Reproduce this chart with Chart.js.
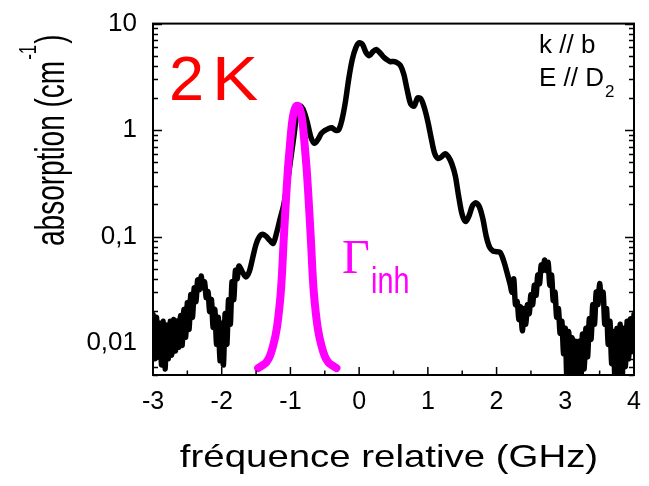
<!DOCTYPE html>
<html>
<head>
<meta charset="utf-8">
<script src="https://cdn.jsdelivr.net/npm/chart.js@4/dist/chart.umd.min.js"></script>
<style>
  html, body { margin: 0; padding: 0; background: #fff; }
  canvas { display: block; }
</style>
</head>
<body>
<canvas id="spectre" width="649" height="486"></canvas>
<script>
// Absorption spectrum at 2 K, log scale, with the inhomogeneous profile drawn on top

// axis ticks
const xTicks = [-3, -2, -1, 0, 1, 2, 3, 4];
const xTickLabels = ['-3', '-2', '-1', '0', '1', '2', '3', '4'];
const yTicks = [0.01, 0.1, 1, 10];
const yTickLabels = ['0,01', '0,1', '1', '10'];

// measured absorption (cm-1) vs relative frequency (GHz)
const freq = [
  -3.000, -2.975, -2.950, -2.925, -2.900, -2.875, -2.850, -2.825, -2.800, -2.775,
  -2.750, -2.725, -2.700, -2.675, -2.650, -2.625, -2.600, -2.575, -2.550, -2.525,
  -2.500, -2.475, -2.450, -2.425, -2.400, -2.375, -2.350, -2.325, -2.300, -2.275,
  -2.250, -2.225, -2.200, -2.175, -2.150, -2.125, -2.100, -2.075, -2.050, -2.025,
  -2.000, -1.975, -1.950, -1.925, -1.900, -1.875, -1.850, -1.825, -1.800, -1.775,
  -1.750, -1.70, -1.65, -1.60, -1.55, -1.50, -1.45, -1.40, -1.35, -1.30,
  -1.25, -1.20, -1.15, -1.10, -1.05, -1.00, -0.95, -0.90, -0.85, -0.80,
  -0.75, -0.70, -0.65, -0.60, -0.55, -0.50, -0.45, -0.40, -0.35, -0.30,
  -0.25, -0.20, -0.15, -0.10, -0.05, 0.00, 0.05, 0.10, 0.15, 0.20,
  0.25, 0.30, 0.35, 0.40, 0.45, 0.50, 0.55, 0.60, 0.65, 0.70,
  0.75, 0.80, 0.85, 0.90, 0.95, 1.00, 1.05, 1.10, 1.15, 1.20,
  1.25, 1.30, 1.35, 1.40, 1.45, 1.50, 1.55, 1.60, 1.65, 1.70,
  1.75, 1.80, 1.85, 1.90, 1.95, 2.00, 2.05, 2.10, 2.15, 2.20,
  2.225, 2.250, 2.275, 2.300, 2.325, 2.350, 2.375, 2.400, 2.425, 2.450,
  2.475, 2.500, 2.525, 2.550, 2.575, 2.600, 2.625, 2.650, 2.675, 2.700,
  2.725, 2.750, 2.775, 2.800, 2.825, 2.850, 2.875, 2.900, 2.925, 2.950,
  2.975, 3.000, 3.025, 3.050, 3.075, 3.100, 3.125, 3.150, 3.175, 3.200,
  3.225, 3.250, 3.275, 3.300, 3.325, 3.350, 3.375, 3.400, 3.425, 3.450,
  3.475, 3.500, 3.525, 3.550, 3.575, 3.600, 3.625, 3.650, 3.675, 3.700,
  3.725, 3.750, 3.775, 3.800, 3.825, 3.850, 3.875, 3.900, 3.925, 3.950,
  3.975, 4.000
];
const absorption = [
  0.0185, 0.0071, 0.0174, 0.0074, 0.0153, 0.0062, 0.016, 0.0057, 0.0147, 0.0071,
  0.016, 0.0077, 0.0166, 0.0084, 0.016, 0.0091, 0.0181, 0.0095, 0.0206, 0.0113,
  0.0239, 0.0134, 0.0284, 0.0174, 0.033, 0.0244, 0.039, 0.0316, 0.0426, 0.033,
  0.0375, 0.0266, 0.0303, 0.0197, 0.0255, 0.014, 0.0206, 0.0097, 0.0174, 0.0068,
  0.0153, 0.0062, 0.0189, 0.0097, 0.0255, 0.015, 0.0375, 0.0255, 0.048, 0.040,
  0.0527, 0.0465, 0.0417, 0.0465, 0.0627, 0.0846, 0.100, 0.105, 0.100, 0.092,
  0.0863, 0.109, 0.147, 0.195, 0.30, 0.51, 0.87, 1.48, 1.68, 1.48,
  1.15, 0.85, 0.75, 0.815, 0.93, 0.99, 1.03, 1.05, 1.00, 1.00,
  1.25, 1.84, 3.07, 4.6, 5.9, 6.6, 6.35, 5.35, 5.0, 5.45,
  5.7, 5.35, 4.9, 4.6, 4.4, 4.4, 4.3, 4.05, 3.34, 2.37,
  1.76, 1.68, 2.0, 1.96, 1.61, 1.2, 0.83, 0.60, 0.54, 0.56,
  0.60, 0.56, 0.48, 0.37, 0.235, 0.16, 0.138, 0.157, 0.195, 0.207,
  0.19, 0.147, 0.10, 0.079, 0.073, 0.072, 0.071, 0.060, 0.0465, 0.035,
  0.030, 0.040, 0.0229, 0.0245, 0.0166, 0.0218, 0.013, 0.021, 0.015, 0.0229,
  0.0189, 0.0284, 0.0229, 0.035, 0.028, 0.0435, 0.036, 0.054, 0.048, 0.060,
  0.048, 0.057, 0.035, 0.0435, 0.025, 0.030, 0.0174, 0.021, 0.0123, 0.016,
  0.0079, 0.0137, 0.004, 0.0128, 0.004, 0.0112, 0.004, 0.0104, 0.004, 0.0104,
  0.004, 0.0121, 0.0057, 0.0137, 0.0074, 0.0169, 0.0108, 0.0229, 0.015, 0.030,
  0.0229, 0.036, 0.0255, 0.030, 0.015, 0.021, 0.0097, 0.016, 0.0064, 0.0128,
  0.004, 0.0137, 0.0045, 0.015, 0.004, 0.0137, 0.006, 0.016, 0.0071, 0.0169,
  0.0084, 0.0185
];

// inhomogeneous line profile
const gammaFreq = [
  -1.47, -1.40, -1.35, -1.30, -1.25, -1.20, -1.17, -1.14, -1.12, -1.10,
  -1.08, -1.06, -1.04, -1.02, -1.00, -0.98, -0.96, -0.93, -0.90, -0.87,
  -0.84, -0.82, -0.80, -0.78, -0.76, -0.74, -0.72, -0.70, -0.68, -0.66,
  -0.63, -0.60, -0.55, -0.50, -0.45, -0.40, -0.33
];
const gammaAbs = [
  0.0058, 0.0062, 0.0066, 0.0075, 0.0095, 0.0135, 0.019, 0.030, 0.048, 0.088,
  0.15, 0.25, 0.40, 0.58, 0.82, 1.12, 1.38, 1.62, 1.69, 1.62,
  1.38, 1.12, 0.82, 0.58, 0.40, 0.25, 0.15, 0.088, 0.048, 0.030,
  0.019, 0.0135, 0.0095, 0.0075, 0.0066, 0.0062, 0.0058
];

const FONT = "'Liberation Sans', Arial, sans-serif";
const SERIF = "'Liberation Serif', 'Times New Roman', serif";

// box, inward tick marks and text annotations
const framePlugin = {
  id: 'frame',
  afterDatasetsDraw(chart) {
    const { ctx, chartArea: a, scales: { x, y } } = chart;
    ctx.save();
    ctx.strokeStyle = '#000';
    ctx.lineWidth = 1.5;
    ctx.beginPath();
    // bottom axis ticks
    xTicks.forEach(v => {
      const px = x.getPixelForValue(v);
      ctx.moveTo(px, a.bottom); ctx.lineTo(px, a.bottom - 8);
      if (v < 4) {
        const pm = x.getPixelForValue(v + 0.5);
        ctx.moveTo(pm, a.bottom); ctx.lineTo(pm, a.bottom - 4.5);
      }
    });
    // left and right log ticks
    for (let e = -3; e <= 0; e++) {
      for (let m = 1; m <= 9; m++) {
        const v = m * Math.pow(10, e);
        if (v < y.min - 1e-9 || v > y.max + 1e-9) continue;
        const py = Math.round(y.getPixelForValue(v)) + 0.5;
        const len = m === 1 ? 9 : 5;
        ctx.moveTo(a.left, py); ctx.lineTo(a.left + len, py);
        ctx.moveTo(a.right, py); ctx.lineTo(a.right - len, py);
      }
    }
    const p10 = Math.round(y.getPixelForValue(10)) + 0.5;
    ctx.moveTo(a.left, p10); ctx.lineTo(a.left + 9, p10);
    ctx.moveTo(a.right, p10); ctx.lineTo(a.right - 9, p10);
    ctx.stroke();

    ctx.lineWidth = 2;
    ctx.strokeRect(a.left, a.top, a.right - a.left, a.bottom - a.top);
    ctx.restore();
  },
  afterDraw(chart) {
    const { ctx } = chart;
    ctx.save();
    ctx.textAlign = 'left';
    ctx.textBaseline = 'alphabetic';

    // temperature
    ctx.fillStyle = '#ff0000';
    ctx.font = `63px ${FONT}`;
    ctx.fillText('2', 169, 100);
    ctx.save();
    ctx.translate(212, 100);
    ctx.scale(1.1, 1);
    ctx.fillText('K', 0, 0);
    ctx.restore();

    // polarisation
    ctx.fillStyle = '#000';
    ctx.font = `26px ${FONT}`;
    ctx.fillText('k // b', 539, 53);
    ctx.fillText('E // D', 539, 86);
    const wD = ctx.measureText('E // D').width;
    ctx.font = `17px ${FONT}`;
    ctx.fillText('2', 539 + wD + 1, 97);

    // inhomogeneous width
    ctx.fillStyle = '#ff00ff';
    ctx.font = `48px ${SERIF}`;
    ctx.fillText('Γ', 342, 273);
    ctx.save();
    ctx.translate(371, 293);
    ctx.scale(0.8, 1);
    ctx.font = `36px ${FONT}`;
    ctx.fillText('inh', 0, 0);
    ctx.restore();

    // axis titles
    ctx.fillStyle = '#000';
    ctx.save();
    ctx.translate(389, 467);
    ctx.scale(1.28, 1.05);
    ctx.font = `30px ${FONT}`;
    ctx.textAlign = 'center';
    ctx.fillText('fréquence relative (GHz)', 0, 0);
    ctx.restore();

    ctx.save();
    ctx.translate(64, 246);
    ctx.rotate(-Math.PI / 2);
    ctx.scale(1, 1.45);
    ctx.font = `28px ${FONT}`;
    const base = 'absorption (cm';
    ctx.fillText(base, 0, 0);
    let w = ctx.measureText(base).width;
    ctx.font = `17px ${FONT}`;
    ctx.fillText('-1', w + 1, -19);
    w += ctx.measureText('-1').width + 2;
    ctx.font = `28px ${FONT}`;
    ctx.fillText(')', w, 0);
    ctx.restore();

    ctx.restore();
  }
};

new Chart(document.getElementById('spectre'), {
  type: 'line',
  data: {
    datasets: [
      {
        label: 'Γinh',
        data: gammaFreq.map((f, i) => ({ x: f, y: gammaAbs[i] })),
        borderColor: '#ff00ff',
        borderWidth: 8,
        borderCapStyle: 'round',
        borderJoinStyle: 'round',
        pointRadius: 0,
        cubicInterpolationMode: 'monotone',
        order: 0,
        clip: 0,
      },
      {
        label: 'absorption',
        data: freq.map((f, i) => ({ x: f, y: absorption[i] })),
        borderColor: '#000',
        borderWidth: 5.5,
        borderJoinStyle: 'round',
        borderCapStyle: 'round',
        pointRadius: 0,
        tension: 0.3,
        order: 1,
        clip: 0,
      }
    ]
  },
  options: {
    responsive: false,
    animation: false,
    events: [],
    layout: { padding: { top: 20, right: 15, left: 0, bottom: 0 } },
    plugins: { legend: { display: false }, tooltip: { enabled: false } },
    scales: {
      x: {
        type: 'linear',
        min: -3,
        max: 4,
        grid: { display: false },
        border: { display: false },
        afterBuildTicks: s => { s.ticks = xTicks.map(v => ({ value: v })); },
        afterFit: s => { s.height = 111; },
        ticks: {
          autoSkip: false,
          maxRotation: 0,
          padding: 4,
          color: '#000',
          font: { family: FONT, size: 25 },
          callback: (v, i) => xTickLabels[i],
        }
      },
      y: {
        type: 'logarithmic',
        min: 0.005,
        max: 10,
        grid: { display: false },
        border: { display: false },
        afterBuildTicks: s => { s.ticks = yTicks.map(v => ({ value: v })); },
        afterFit: s => { s.width = 153; },
        ticks: {
          autoSkip: false,
          padding: 8,
          color: '#000',
          font: { family: FONT, size: 26 },
          callback: (v, i) => yTickLabels[i],
        }
      }
    }
  },
  plugins: [framePlugin]
});
</script>
</body>
</html>
